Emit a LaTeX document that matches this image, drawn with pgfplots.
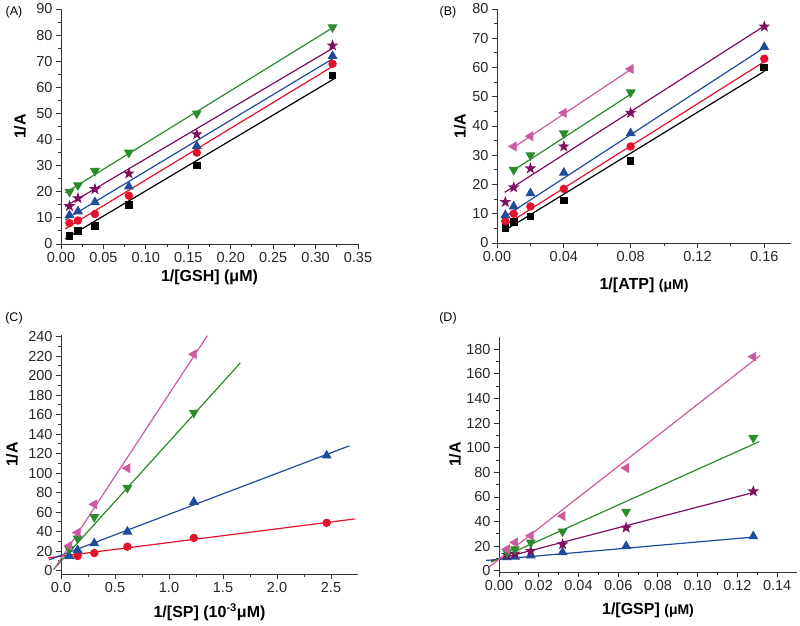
\documentclass[border=0pt]{standalone}
\usepackage{fontspec}
\setmainfont{Liberation Sans}
\usepackage{pgfplots}
\pgfplotsset{compat=1.18}

\definecolor{cred}{HTML}{E5102B}
\definecolor{cblue}{HTML}{1F4C9A}
\definecolor{cpur}{HTML}{7D0F5F}
\definecolor{cgreen}{HTML}{2B8A2B}
\definecolor{cpink}{HTML}{CC5A9E}
\definecolor{axgray}{HTML}{333333}

% filled five-pointed star
\pgfdeclareplotmark{fstar}{%
  \pgfpathmoveto{\pgfpointpolar{90}{1.25\pgfplotmarksize}}%
  \pgfpathlineto{\pgfpointpolar{126}{0.5\pgfplotmarksize}}%
  \pgfpathlineto{\pgfpointpolar{162}{1.25\pgfplotmarksize}}%
  \pgfpathlineto{\pgfpointpolar{198}{0.5\pgfplotmarksize}}%
  \pgfpathlineto{\pgfpointpolar{234}{1.25\pgfplotmarksize}}%
  \pgfpathlineto{\pgfpointpolar{270}{0.5\pgfplotmarksize}}%
  \pgfpathlineto{\pgfpointpolar{306}{1.25\pgfplotmarksize}}%
  \pgfpathlineto{\pgfpointpolar{342}{0.5\pgfplotmarksize}}%
  \pgfpathlineto{\pgfpointpolar{18}{1.25\pgfplotmarksize}}%
  \pgfpathlineto{\pgfpointpolar{54}{0.5\pgfplotmarksize}}%
  \pgfpathclose\pgfusepathqfillstroke}

\pgfplotsset{
  kin/.style={
    scale only axis, axis lines*=left, clip=false,
    tick align=outside, minor tick num=1,
    major tick length=5pt, minor tick length=3pt,
    axis line style={axgray, line width=0.9pt},
    every tick/.style={axgray, line width=0.9pt},
    tick label style={font=\fontsize{14.5}{16}\selectfont, text=black!85},
    label style={font=\bfseries\fontsize{16}{18}\selectfont},
    /pgf/number format/assume math mode=true,
    every axis plot/.append style={line width=1.2pt},
  },
  sq/.style={only marks, mark=square*, black, mark size=3.2pt},
  ci/.style={only marks, mark=*, cred, mark size=3.6pt},
  tu/.style={only marks, mark=triangle*, cblue, mark size=4.6pt},
  st/.style={only marks, mark=fstar, cpur, mark size=3.5pt},
  td/.style={only marks, mark=triangle*, cgreen, mark size=4.6pt, mark options={rotate=180}},
  tl/.style={only marks, mark=triangle*, cpink, mark size=4.6pt, mark options={rotate=90}},
}

\begin{document}
\begin{tikzpicture}
\path[use as bounding box] (0pt,0pt) rectangle (800pt,625pt);

\node[font=\fontsize{12.5}{14}\selectfont] at (14pt,613pt) {(A)};
\node[font=\fontsize{12.5}{14}\selectfont] at (448pt,613pt) {(B)};
\node[font=\fontsize{12.5}{14}\selectfont] at (14pt,307pt) {(C)};
\node[font=\fontsize{12.5}{14}\selectfont] at (448pt,307pt) {(D)};

% ---------------- (A)
\begin{axis}[kin, at={(61pt,381pt)}, anchor=south west,
  width=297pt, height=235pt,
  xmin=0, xmax=0.35, ymin=0, ymax=90,
  xtick={0,0.05,...,0.35}, ytick={0,10,...,90},
  xticklabel style={/pgf/number format/.cd, fixed, fixed zerofill, precision=2},
  xlabel={1/[GSH] (μM)}, ylabel={1/A},
  xlabel style={at={(axis description cs:0.5,-0.14)}, anchor=center},
  ylabel style={at={(axis description cs:-0.138,0.5)}, anchor=center},
]
\addplot[black] coordinates {(0.005,2) (0.322,63.3)};
\addplot[cred] coordinates {(0.005,5.8) (0.322,68.4)};
\addplot[cblue] coordinates {(0.005,9.3) (0.322,71.3)};
\addplot[cpur] coordinates {(0.005,14.4) (0.322,75.3)};
\addplot[cgreen] coordinates {(0.005,19.6) (0.322,83.2)};
\addplot[sq] coordinates {(0.01,3) (0.02,5) (0.04,7) (0.08,15) (0.16,30) (0.32,64.5)};
\addplot[ci] coordinates {(0.01,8) (0.02,9) (0.04,11.5) (0.08,18.5) (0.16,35) (0.32,69)};
\addplot[tu] coordinates {(0.01,11) (0.02,12.5) (0.04,16) (0.08,22) (0.16,37.5) (0.32,72)};
\addplot[st] coordinates {(0.01,14.5) (0.02,17.5) (0.04,21) (0.08,27) (0.16,42) (0.32,76)};
\addplot[td] coordinates {(0.01,20) (0.02,22.5) (0.04,28) (0.08,35) (0.16,50) (0.32,83)};
\end{axis}

% ---------------- (B)
\begin{axis}[kin, at={(497pt,382pt)}, anchor=south west,
  width=294pt, height=234pt,
  xmin=0, xmax=0.176, ymin=0, ymax=80,
  xtick={0,0.04,...,0.16}, ytick={0,10,...,80},
  xticklabel style={/pgf/number format/.cd, fixed, fixed zerofill, precision=2},
  xlabel={1/[ATP] {\fontsize{14}{16}\selectfont(μM)}}, ylabel={1/A},
  xlabel style={at={(axis description cs:0.5,-0.18)}, anchor=center},
  ylabel style={at={(axis description cs:-0.126,0.5)}, anchor=center},
]
\addplot[black] coordinates {(0.0046,4.3) (0.16,58.7)};
\addplot[cred] coordinates {(0.0046,6) (0.16,62)};
\addplot[cblue] coordinates {(0.0046,9) (0.16,66.8)};
\addplot[cpur] coordinates {(0.0046,17.3) (0.16,74.2)};
\addplot[cgreen] coordinates {(0.0097,24.8) (0.0823,51.7)};
\addplot[cpink] coordinates {(0.0097,32.6) (0.0813,59.8)};
\addplot[sq] coordinates {(0.005,5.2) (0.01,7.2) (0.02,9) (0.04,14.5) (0.08,28) (0.16,60)};
\addplot[ci] coordinates {(0.005,7.5) (0.01,10) (0.02,12.5) (0.04,18.5) (0.08,33) (0.16,63)};
\addplot[tu] coordinates {(0.005,9.5) (0.01,12.5) (0.02,17) (0.04,24) (0.08,37.5) (0.16,67)};
\addplot[st] coordinates {(0.005,14) (0.01,19) (0.02,25.5) (0.04,33) (0.08,44.5) (0.16,74)};
\addplot[td] coordinates {(0.01,25) (0.02,30) (0.04,37.5) (0.08,51.5)};
\addplot[tl] coordinates {(0.01,33) (0.02,36.5) (0.04,44.5) (0.08,59.5)};
\end{axis}

% ---------------- (C)
\begin{axis}[kin, at={(61pt,51pt)}, anchor=south west,
  width=297pt, height=239pt,
  xmin=0, xmax=2.75, ymin=-3.5, ymax=241.7,
  xtick={0,0.5,...,2.5}, ytick={0,20,...,240},
  xticklabel style={/pgf/number format/.cd, fixed, fixed zerofill, precision=1},
  xlabel={1/[SP] (10\textsuperscript{-3}μM)}, ylabel={1/A},
  xlabel style={at={(axis description cs:0.5,-0.159)}, anchor=center},
  ylabel style={at={(axis description cs:-0.165,0.5)}, anchor=center},
]
\addplot[cred] coordinates {(-0.12,13) (2.72,53)};
\addplot[cblue] coordinates {(-0.11,11) (2.67,128)};
\addplot[cgreen] coordinates {(-0.07,1) (1.66,213)};
\addplot[cpink] coordinates {(-0.055,3) (1.355,241)};
\addplot[ci] coordinates {(0.154,15) (0.308,18) (0.615,24.5) (1.23,33.5) (2.46,49)};
\addplot[tu] coordinates {(0.077,15) (0.154,21) (0.308,28) (0.615,40) (1.23,70.5) (2.46,118)};
\addplot[td] coordinates {(0.077,22) (0.154,33) (0.308,55) (0.615,85) (1.23,162)};
\addplot[tl] coordinates {(0.077,25.5) (0.154,39) (0.308,68) (0.615,105) (1.23,222)};
\end{axis}

% ---------------- (D)
\begin{axis}[kin, at={(499pt,53pt)}, anchor=south west,
  width=298pt, height=235pt,
  xmin=0, xmax=0.15, ymin=-1, ymax=190,
  xtick={0,0.02,...,0.14}, ytick={0,20,...,180},
  xticklabel style={/pgf/number format/.cd, fixed, fixed zerofill, precision=2},
  xlabel={1/[GSP] {\fontsize{14}{16}\selectfont(μM)}}, ylabel={1/A},
  xlabel style={at={(axis description cs:0.5,-0.165)}, anchor=center},
  ylabel style={at={(axis description cs:-0.148,0.5)}, anchor=center},
]
\addplot[cblue] coordinates {(-0.0065,8.4) (0.1295,27.6)};
\addplot[cpur] coordinates {(-0.004,8) (0.129,64)};
\addplot[cgreen] coordinates {(-0.004,7) (0.131,105)};
\addplot[cpink] coordinates {(-0.005,3) (0.1315,175)};
\addplot[tu] coordinates {(0.004,11) (0.008,11.5) (0.016,12.5) (0.032,15) (0.064,20) (0.128,28)};
\addplot[st] coordinates {(0.004,13) (0.008,14) (0.016,16) (0.032,21.5) (0.064,35) (0.128,64.5)};
\addplot[td] coordinates {(0.004,15) (0.008,17.5) (0.016,23) (0.032,32) (0.064,48) (0.128,108)};
\addplot[tl] coordinates {(0.004,17.5) (0.008,23) (0.016,28.5) (0.032,44.5) (0.064,83.5) (0.128,174)};
\end{axis}
\end{tikzpicture}
\end{document}
